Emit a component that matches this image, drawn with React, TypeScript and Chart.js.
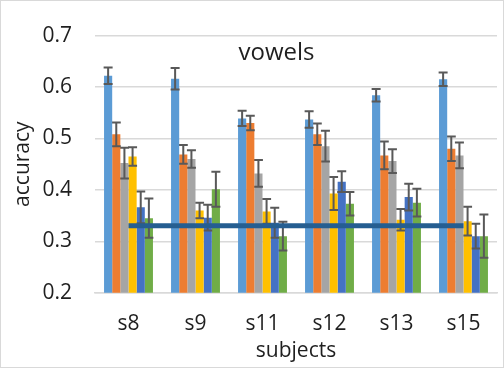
import React, { useEffect, useRef } from "react";
import { Chart, registerables } from "chart.js";

Chart.register(...registerables);

const categories = ["s8", "s9", "s11", "s12", "s13", "s15"];
const seriesA = [0.622, 0.616, 0.539, 0.537, 0.584, 0.615];
const seriesB = [0.508, 0.469, 0.530, 0.508, 0.467, 0.480];
const seriesC = [0.452, 0.460, 0.432, 0.485, 0.456, 0.467];
const seriesD = [0.465, 0.360, 0.358, 0.393, 0.342, 0.339];
const seriesE = [0.366, 0.346, 0.336, 0.416, 0.386, 0.310];
const seriesF = [0.345, 0.401, 0.310, 0.373, 0.375, 0.310];
const errA = [0.016, 0.021, 0.015, 0.016, 0.012, 0.013];
const errB = [0.023, 0.018, 0.014, 0.021, 0.027, 0.024];
const errC = [0.030, 0.017, 0.026, 0.030, 0.023, 0.025];
const errD = [0.018, 0.015, 0.024, 0.032, 0.021, 0.028];
const errE = [0.031, 0.025, 0.029, 0.020, 0.026, 0.024];
const errF = [0.038, 0.034, 0.028, 0.023, 0.027, 0.042];
const chanceLine = [0.33, 0.33, 0.33, 0.33, 0.33, 0.33];
const yTicks = [0.2, 0.3, 0.4, 0.5, 0.6, 0.7];

const FONT = "'Open Sans', sans-serif";
const TEXT = "#1f1f1f";

const errorBarPlugin = {
  id: "errorBars",
  afterDatasetDraw(chart: any, args: any) {
    const ds = chart.data.datasets[args.index];
    if (!ds.errors) return;
    const meta = chart.getDatasetMeta(args.index);
    const y = chart.scales.y;
    const ctx = chart.ctx;
    ctx.save();
    ctx.strokeStyle = "#595959";
    ctx.lineWidth = 2;
    meta.data.forEach((bar: any, i: number) => {
      const v = ds.data[i];
      const e = ds.errors[i];
      const x = bar.x;
      const yt = y.getPixelForValue(v + e);
      const yb = y.getPixelForValue(v - e);
      const cap = 4.5;
      ctx.beginPath();
      ctx.moveTo(x, yt);
      ctx.lineTo(x, yb);
      ctx.moveTo(x - cap, yt);
      ctx.lineTo(x + cap, yt);
      ctx.moveTo(x - cap, yb);
      ctx.lineTo(x + cap, yb);
      ctx.stroke();
    });
    ctx.restore();
  },
};

const framePlugin = {
  id: "frame",
  beforeDraw(chart: any) {
    const ctx = chart.ctx;
    ctx.save();
    ctx.fillStyle = "#ffffff";
    ctx.fillRect(0, 0, chart.width, chart.height);
    ctx.strokeStyle = "#d9d9d9";
    ctx.lineWidth = 1;
    ctx.strokeRect(0.5, 0.5, chart.width - 1, chart.height - 1);
    ctx.restore();
  },
  afterDraw(chart: any) {
    const { left, right, top, bottom } = chart.chartArea;
    const ctx = chart.ctx;
    ctx.save();
    ctx.fillStyle = TEXT;
    ctx.font = `24px ${FONT}`;
    ctx.textAlign = "center";
    ctx.textBaseline = "middle";
    ctx.fillText("vowels", left + (right - left) * 0.4515, top + (bottom - top) * 0.068);
    ctx.restore();
  },
};

export default function App() {
  const ref = useRef<HTMLCanvasElement>(null);
  useEffect(() => {
    if (!ref.current) return;
    const mk = (label: string, data: number[], errors: number[], color: string) => ({
      type: "bar" as const,
      label,
      data,
      errors,
      backgroundColor: color,
      borderWidth: 0,
      order: 1,
      categoryPercentage: 0.73,
      barPercentage: 1.0,
    });
    const chart = new Chart(ref.current, {
      type: "bar",
      data: {
        labels: categories,
        datasets: [
          mk("A", seriesA, errA, "#5B9BD5"),
          mk("B", seriesB, errB, "#ED7D31"),
          mk("C", seriesC, errC, "#A5A5A5"),
          mk("D", seriesD, errD, "#FFC000"),
          mk("E", seriesE, errE, "#4472C4"),
          mk("F", seriesF, errF, "#70AD47"),
          {
            type: "line" as const,
            label: "chance",
            data: chanceLine,
            borderColor: "#255E91",
            borderWidth: 5,
            pointRadius: 0,
            fill: false,
            order: 0,
          } as any,
        ] as any,
      },
      options: {
        responsive: false,
        animation: false,
        devicePixelRatio: 1,
        layout: { padding: { top: 15, right: 7, left: 0, bottom: 0 } },
        plugins: { legend: { display: false }, tooltip: { enabled: false }, title: { display: false } },
        scales: {
          x: {
            grid: { display: false, drawTicks: false },
            border: { display: true, color: "#d9d9d9", width: 1.5 },
            ticks: { color: TEXT, font: { family: FONT, size: 21 }, padding: 19 },
            title: { display: true, text: "subjects", color: TEXT, font: { family: FONT, size: 21 }, padding: { top: 0, bottom: 4 } },
            afterFit: (s: any) => { s.height = 75.3; },
          },
          y: {
            min: yTicks[0],
            max: yTicks[yTicks.length - 1],
            afterBuildTicks: (s: any) => { s.ticks = yTicks.map((v) => ({ value: v })); },
            grid: { color: "#d9d9d9", lineWidth: 1.5, drawTicks: false },
            border: { display: false },
            ticks: { color: TEXT, font: { family: FONT, size: 21 }, padding: 23, callback: (v: any) => Number(v).toFixed(1) },
            title: { display: true, text: "accuracy", color: TEXT, font: { family: FONT, size: 21 }, padding: { top: 10.4, bottom: 0 } },
            afterFit: (s: any) => { s.width = 95; },
          },
        },
      } as any,
      plugins: [errorBarPlugin, framePlugin],
    });
    return () => chart.destroy();
  }, []);
  return (
    <div style={{ position: "absolute", left: 0, top: 0, width: 504, height: 368 }}>
      <canvas ref={ref} width={504} height={368} style={{ display: "block" }} />
    </div>
  );
}
